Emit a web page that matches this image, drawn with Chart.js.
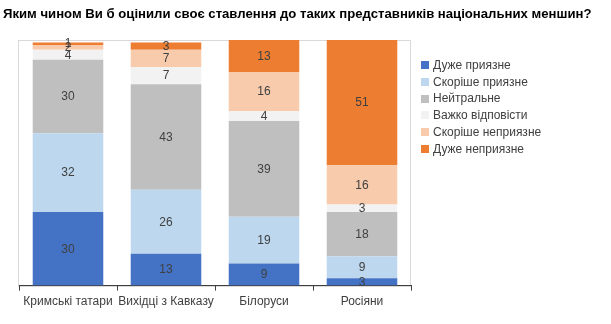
<!DOCTYPE html>
<html>
<head>
<meta charset="utf-8">
<script src="https://cdn.jsdelivr.net/npm/chart.js@4"></script>
<style>
  html, body { margin: 0; padding: 0; background: #fff; }
  #wrap { width: 611px; height: 324px; position: relative; }
</style>
</head>
<body>
<div id="wrap"><canvas id="c" width="611" height="324"></canvas></div>
<script>
const titleText = 'Яким чином Ви б оцінили своє ставлення до таких представників національних меншин?';
const categories = ['Кримські татари', 'Вихідці з Кавказу', 'Білоруси', 'Росіяни'];
const seriesNames = ['Дуже приязне', 'Скоріше приязне', 'Нейтральне', 'Важко відповісти', 'Скоріше неприязне', 'Дуже неприязне'];
const veryFriendly = [30, 13, 9, 3];
const ratherFriendly = [32, 26, 19, 9];
const neutral = [30, 43, 39, 18];
const hardToSay = [4, 7, 4, 3];
const ratherUnfriendly = [2, 7, 16, 16];
const veryUnfriendly = [1, 3, 13, 51];
const seriesColors = ['#4472C4', '#BDD7EE', '#BFBFBF', '#F2F2F2', '#F8CBAD', '#ED7D31'];

const FONT = "'Liberation Sans', Arial, sans-serif";
const allSeries = [veryFriendly, ratherFriendly, neutral, hardToSay, ratherUnfriendly, veryUnfriendly];

const datasets = allSeries.map((d, i) => ({
  label: seriesNames[i],
  data: d,
  backgroundColor: seriesColors[i],
  borderWidth: 0,
  categoryPercentage: 0.72,
  barPercentage: 1.0
}));

const framePlugin = {
  id: 'frame',
  beforeDraw(chart) {
    const { ctx, chartArea: a } = chart;
    ctx.save();
    ctx.strokeStyle = '#D9D9D9';
    ctx.lineWidth = 1;
    ctx.strokeRect(Math.round(a.left) - 0.5, Math.round(a.top) + 0.5, Math.round(a.right - a.left), Math.round(a.bottom - a.top));
    ctx.restore();
  }
};

const labelPlugin = {
  id: 'vals',
  afterDatasetsDraw(chart) {
    const { ctx } = chart;
    ctx.save();
    ctx.font = '12px ' + FONT;
    ctx.fillStyle = '#404040';
    ctx.textAlign = 'center';
    ctx.textBaseline = 'middle';
    chart.data.datasets.forEach((ds, i) => {
      const meta = chart.getDatasetMeta(i);
      meta.data.forEach((el, j) => {
        const p = el.getProps(['x', 'y', 'base'], true);
        ctx.fillText(String(ds.data[j]), p.x, (p.y + p.base) / 2 + 0.5);
      });
    });
    ctx.restore();
  }
};

const titleLegendPlugin = {
  id: 'titleLegend',
  afterDraw(chart) {
    const { ctx } = chart;
    ctx.save();
    ctx.font = 'bold 13.15px ' + FONT;
    ctx.fillStyle = '#000';
    ctx.textAlign = 'left';
    ctx.textBaseline = 'alphabetic';
    ctx.fillText(titleText, 3, 18);
    ctx.font = '12px ' + FONT;
    ctx.textBaseline = 'middle';
    chart.data.datasets.forEach((ds, i) => {
      const y = 65 + i * 16.8;
      ctx.fillStyle = ds.backgroundColor;
      ctx.fillRect(421, Math.round(y - 4), 8, 8);
      ctx.fillStyle = '#404040';
      ctx.fillText(ds.label, 433, y + 0.5);
    });
    ctx.restore();
  }
};

new Chart(document.getElementById('c'), {
  type: 'bar',
  data: { labels: categories, datasets },
  options: {
    responsive: false,
    animation: false,
    devicePixelRatio: 1,
    layout: { padding: { left: 19, right: 200, top: 40, bottom: 11 } },
    plugins: { legend: { display: false }, title: { display: false }, tooltip: { enabled: false } },
    scales: {
      x: {
        stacked: true,
        grid: { display: true, drawOnChartArea: false, drawTicks: true, tickLength: 5, offset: true, color: '#404040' },
        border: { display: true, color: '#404040' },
        ticks: { font: { size: 12, family: FONT }, color: '#404040', padding: 4, maxRotation: 0, autoSkip: false }
      },
      y: {
        stacked: true,
        min: 0,
        max: 100,
        display: false
      }
    }
  },
  plugins: [framePlugin, labelPlugin, titleLegendPlugin]
});
</script>
</body>
</html>
